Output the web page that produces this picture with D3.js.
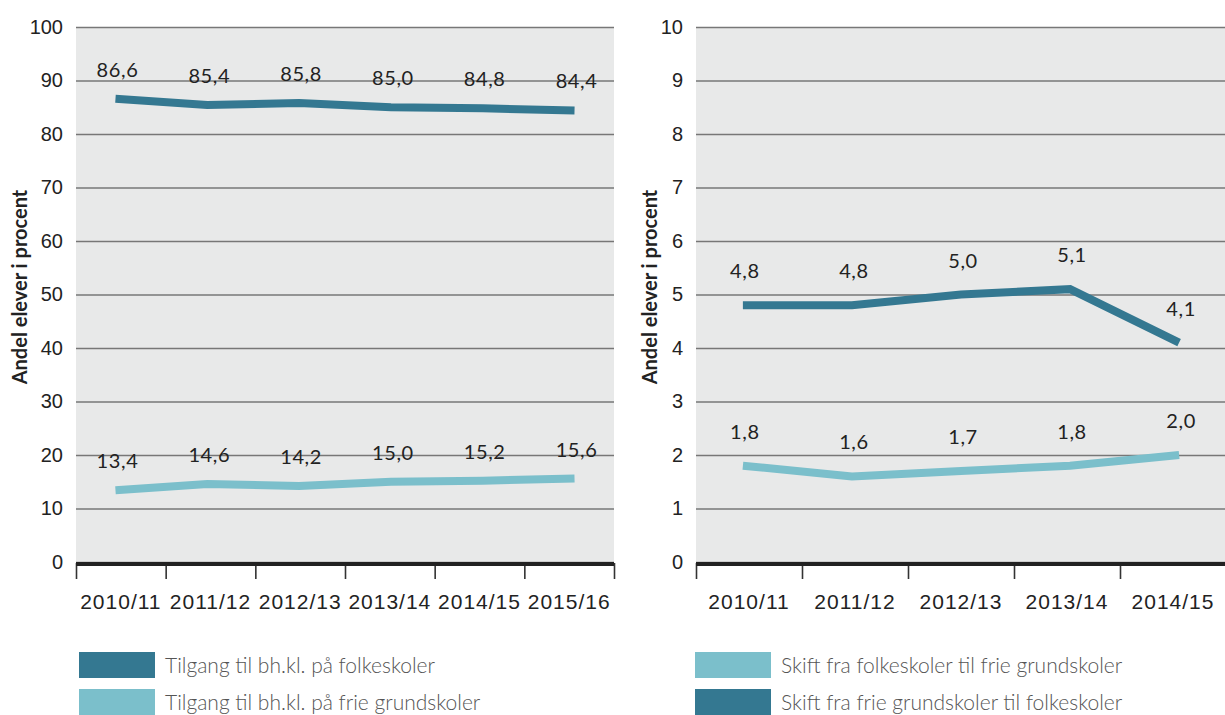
<!DOCTYPE html>
<html>
<head>
<meta charset="utf-8">
<script src="https://cdn.jsdelivr.net/npm/d3@7"></script>
<style>
  body { margin: 0; background: #fff; }
  svg { font-family: Lato, "Open Sans", sans-serif; }
  .tick text { fill: #222; }
</style>
</head>
<body>
<div id="chart"></div>
<script>
// left panel: tilgang til bh.kl.
var yearsLeft = ["2010/11", "2011/12", "2012/13", "2013/14", "2014/15", "2015/16"];
var folkeskoler = [86.6, 85.4, 85.8, 85.0, 84.8, 84.4];
var frieGrundskoler = [13.4, 14.6, 14.2, 15.0, 15.2, 15.6];
var leftTicks = [0, 10, 20, 30, 40, 50, 60, 70, 80, 90, 100];
var leftLegend = ["Tilgang til bh.kl. på folkeskoler", "Tilgang til bh.kl. på frie grundskoler"];

// right panel: skift mellem skoletyper
var yearsRight = ["2010/11", "2011/12", "2012/13", "2013/14", "2014/15"];
var fraFrie = [4.8, 4.8, 5.0, 5.1, 4.1];
var fraFolke = [1.8, 1.6, 1.7, 1.8, 2.0];
var rightTicks = [0, 1, 2, 3, 4, 5, 6, 7, 8, 9, 10];
var rightLegend = ["Skift fra folkeskoler til frie grundskoler", "Skift fra frie grundskoler til folkeskoler"];

var yTitle = "Andel elever i procent";

var width = 1225;
var height = 715;
var dark = "#347891";
var light = "#7bbfcb";

var svg = d3.select("#chart")
  .append("svg")
  .attr("width", width)
  .attr("height", height);

function fmt(v) {
  return d3.format(".1f")(v).replace(".", ",");
}

function panel(o) {
  var g = svg.append("g");
  var n = o.years.length;

  var yscale = d3.scaleLinear()
    .domain([0, o.ymax])
    .range([562, 27]);

  // background
  g.append("rect")
    .attr("x", o.x0)
    .attr("y", 28)
    .attr("width", o.x1 - o.x0)
    .attr("height", 562 - 28)
    .attr("fill", "#e8e9e9");

  // y axis with gridlines
  var yaxis = d3.axisLeft()
    .scale(yscale)
    .tickValues(o.ticks)
    .tickSize(-(o.x1 - o.x0))
    .tickPadding(13)
    .tickFormat(d3.format("d"));

  var ya = g.append("g")
    .attr("transform", "translate(" + o.x0 + ",0)")
    .call(yaxis);
  ya.select(".domain").remove();
  ya.selectAll(".tick line").attr("stroke", "#777").attr("stroke-width", 1.6);
  ya.selectAll(".tick text").attr("font-size", 20);

  // x axis: ticks at band edges
  var edge = d3.scaleLinear().domain([0, n]).range([o.x0, o.x1]);
  var edgeAxis = d3.axisBottom()
    .scale(edge)
    .tickValues(d3.range(n + 1))
    .tickSize(16)
    .tickFormat("")
    .tickSizeOuter(0);
  var ea = g.append("g")
    .attr("transform", "translate(0,563)")
    .call(edgeAxis);
  ea.select(".domain").remove();
  ea.selectAll(".tick line").attr("stroke", "#333").attr("stroke-width", 1.6);

  var band = d3.scaleBand().domain(o.years).range([o.x0, o.x1]);
  var xaxis = d3.axisBottom()
    .scale(band)
    .tickSize(0)
    .tickPadding(31);
  var xa = g.append("g")
    .attr("transform", "translate(0,563)")
    .call(xaxis);
  xa.select(".domain").remove();
  xa.selectAll(".tick text")
    .attr("font-size", 21)
    .attr("letter-spacing", 1);

  // thick baseline
  g.append("line")
    .attr("x1", o.x0).attr("x2", o.x1)
    .attr("y1", 564).attr("y2", 564)
    .attr("stroke", "#222")
    .attr("stroke-width", 4);

  var xscale = d3.scalePoint()
    .domain(o.years)
    .range([o.x0, o.x1])
    .padding(0.43);

  o.series.forEach(function (s) {
    g.append("path")
      .datum(s.values)
      .attr("fill", "none")
      .attr("stroke", s.color)
      .attr("stroke-width", 8)
      .attr("d", d3.line()
        .x(function (d, i) { return xscale(o.years[i]); })
        .y(function (d) { return yscale(d); }));

    g.selectAll(null)
      .data(s.values)
      .enter()
      .append("text")
      .attr("x", function (d, i) { return xscale(o.years[i]) + 2; })
      .attr("y", function (d) { return yscale(d) - o.labelOffset; })
      .attr("text-anchor", "middle")
      .attr("font-size", 20)
      .attr("letter-spacing", 0.6)
      .attr("fill", "#222")
      .text(fmt);
  });

  // axis title
  g.append("text")
    .attr("transform", "translate(" + o.titleX + ",287) rotate(-90)")
    .attr("text-anchor", "middle")
    .attr("font-size", 20)
    .attr("font-weight", "bold")
    .attr("fill", "#222")
    .text(yTitle);

  // legend
  o.legend.forEach(function (l, i) {
    g.append("rect")
      .attr("x", o.legendX)
      .attr("y", 652 + i * 37)
      .attr("width", 76)
      .attr("height", 26)
      .attr("fill", l.color);
    g.append("text")
      .attr("x", o.legendX + 86)
      .attr("y", 673 + i * 37)
      .attr("font-size", 21)
      .attr("font-weight", 300)
      .attr("fill", "#555")
      .text(l.name);
  });
}

panel({
  years: yearsLeft,
  ymax: 100,
  ticks: leftTicks,
  x0: 76, x1: 614,
  titleX: 27,
  labelOffset: 22,
  legendX: 79,
  series: [
    { values: folkeskoler, color: dark },
    { values: frieGrundskoler, color: light }
  ],
  legend: [
    { name: leftLegend[0], color: dark },
    { name: leftLegend[1], color: light }
  ]
});

panel({
  years: yearsRight,
  ymax: 10,
  ticks: rightTicks,
  x0: 696, x1: 1226,
  titleX: 657,
  labelOffset: 27,
  legendX: 695,
  series: [
    { values: fraFrie, color: dark },
    { values: fraFolke, color: light }
  ],
  legend: [
    { name: rightLegend[0], color: light },
    { name: rightLegend[1], color: dark }
  ]
});
</script>
</body>
</html>
